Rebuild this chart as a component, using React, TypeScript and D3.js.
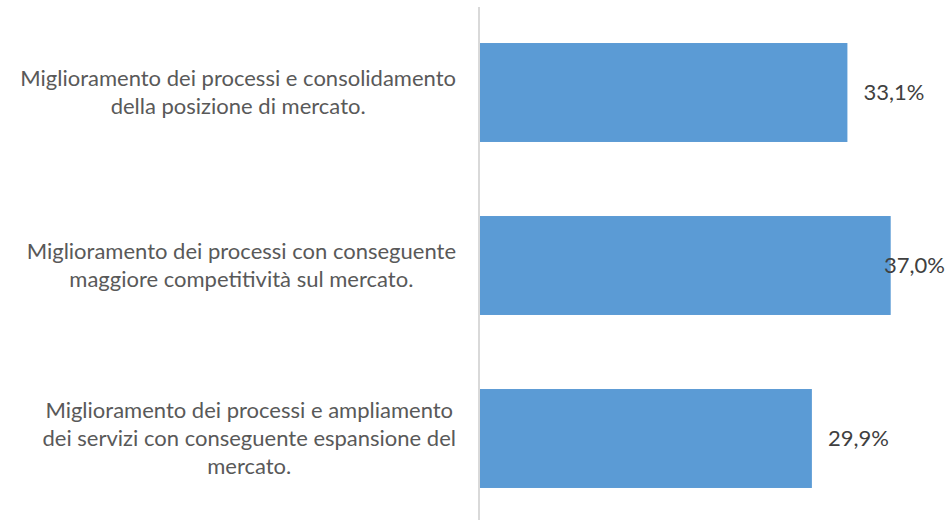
import React, { useEffect, useRef } from "react";
import * as d3 from "d3";

const categories: string[][] = [
  ["Miglioramento dei processi e consolidamento", "della posizione di mercato."],
  ["Miglioramento dei processi con conseguente", "maggiore competitività sul mercato."],
  ["Miglioramento dei processi e ampliamento", "dei servizi con conseguente espansione del", "mercato."],
];
const values: number[] = [0.331, 0.37, 0.299];
const valueLabels: string[] = ["33,1%", "37,0%", "29,9%"];

const W = 949;
const H = 520;

export default function App() {
  const ref = useRef<SVGSVGElement>(null);
  useEffect(() => {
    const svg = d3.select(ref.current);
    svg.selectAll("*").remove();
    const font = "Lato, 'Open Sans', sans-serif";
    const fontSize = 22;
    const textColor = "#595959";

    const x = d3.scaleLinear().domain([0, 0.4]).range([480, 924]);
    const y = d3
      .scaleBand<number>()
      .domain(d3.range(categories.length))
      .range([6, 525])
      .paddingInner(0.428)
      .paddingOuter(0.214);

    // bars
    svg
      .selectAll("rect.bar")
      .data(values)
      .enter()
      .append("rect")
      .attr("class", "bar")
      .attr("x", x(0))
      .attr("y", (_, i) => y(i)!)
      .attr("width", (d) => x(d) - x(0))
      .attr("height", y.bandwidth())
      .attr("fill", "#5B9BD5");

    // axis line
    svg
      .append("line")
      .attr("x1", x(0) - 1)
      .attr("x2", x(0) - 1)
      .attr("y1", 7)
      .attr("y2", H)
      .attr("stroke", "#D9D9D9")
      .attr("stroke-width", 2);

    // category labels
    const lineH = 28;
    const rightEdge = 456;
    categories.forEach((lines, i) => {
      const cy = y(i)! + y.bandwidth() / 2;
      const g = svg.append("g");
      const texts = lines.map((ln, j) =>
        g
          .append("text")
          .attr("y", cy + (j - (lines.length - 1) / 2) * lineH)
          .attr("dy", "0.35em")
          .attr("text-anchor", "middle")
          .attr("font-family", font)
          .attr("font-size", fontSize)
          .attr("fill", textColor)
          .text(ln)
      );
      const maxW = d3.max(texts, (t) => (t.node() as SVGTextElement).getComputedTextLength()) || 0;
      texts.forEach((t) => t.attr("x", rightEdge - maxW / 2));
    });

    // value labels
    values.forEach((v, i) => {
      const cy = y(i)! + y.bandwidth() / 2;
      const t = svg
        .append("text")
        .attr("y", cy)
        .attr("dy", "0.35em")
        .attr("font-family", font)
        .attr("font-size", fontSize)
        .attr("fill", "#404040")
        .text(valueLabels[i]);
      const w = (t.node() as SVGTextElement).getComputedTextLength();
      let lx = x(v) + 16;
      if (lx + w > W - 4) lx = W - 4 - w;
      t.attr("x", lx);
    });
  }, []);

  return (
    <svg
      ref={ref}
      width={W}
      height={H}
      style={{ position: "absolute", left: 0, top: 0, background: "#fff" }}
    />
  );
}
